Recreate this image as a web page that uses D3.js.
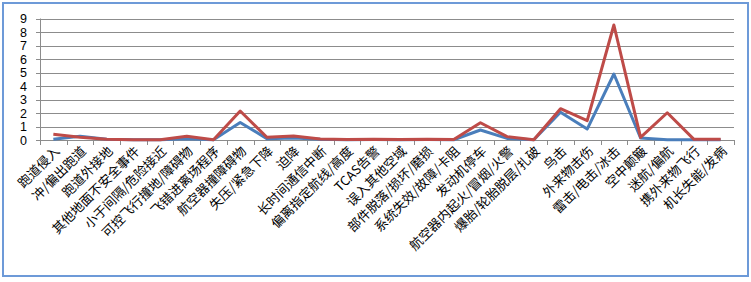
<!DOCTYPE html>
<html>
<head>
<meta charset="utf-8">
<script src="https://cdn.jsdelivr.net/npm/d3@7"></script>
<style>
  body { margin: 0; background: #fff; }
  svg { display: block; }
</style>
</head>
<body>
<div id="chart"></div>
<script>
var categories = ["跑道侵入", "冲/偏出跑道", "跑道外接地", "其他地面不安全事件", "小于间隔/危险接近",
    "可控飞行撞地/障碍物", "飞错进离场程序", "航空器撞障碍物", "失压/紧急下降", "迫降",
    "长时间通信中断", "偏离指定航线/高度", "TCAS告警", "误入其他空域", "部件脱落/损坏/磨损",
    "系统失效/故障/卡阻", "发动机停车", "航空器内起火/冒烟/火警", "爆胎/轮胎脱层/扎破", "鸟击",
    "外来物击伤", "雷击/电击/冰击", "空中颠簸", "迷航/偏航", "携外来物飞行", "机长失能/发病"];

var blueValues = [0.05, 0.27, 0.05, 0.02, 0.02, 0.1, 0.02, 1.3, 0.1, 0.15,
    0.05, 0.02, 0.04, 0.02, 0.04, 0.02, 0.74, 0.12, 0.02, 2.05,
    0.81, 4.89, 0.15, 0.02, 0.01, 0.01];
var redValues = [0.42, 0.2, 0.05, 0.02, 0.02, 0.27, 0.02, 2.15, 0.2, 0.3,
    0.08, 0.03, 0.06, 0.03, 0.06, 0.03, 1.28, 0.25, 0.02, 2.32,
    1.43, 8.52, 0.2, 2.02, 0.05, 0.05];
var yTicks = [0, 1, 2, 3, 4, 5, 6, 7, 8, 9];

var width = 751, height = 282;
var margin = {top: 18.5, left: 40, right: 17, bottom: 142};

var svg = d3.select("#chart").append("svg")
    .attr("width", width)
    .attr("height", height);

// chart border
svg.append("rect")
    .attr("x", 3).attr("y", 3)
    .attr("width", 745).attr("height", 273)
    .attr("fill", "#fff")
    .attr("stroke", "#6d9ad8")
    .attr("stroke-width", 2);

var x = d3.scaleBand()
    .domain(categories)
    .range([margin.left, width - margin.right])
    .padding(0);
var y = d3.scaleLinear()
    .domain([0, 9])
    .range([height - margin.bottom, margin.top]);

// gridlines
svg.append("g")
    .selectAll("line")
    .data(yTicks)
    .enter()
    .append("line")
    .attr("x1", margin.left - 4)
    .attr("x2", width - margin.right)
    .attr("y1", d => Math.round(y(d)) + 0.5)
    .attr("y2", d => Math.round(y(d)) + 0.5)
    .attr("stroke", "#8c8c8c")
    .attr("stroke-width", 1);

// y labels
svg.append("g")
    .selectAll("text")
    .data(yTicks)
    .enter()
    .append("text")
    .attr("x", 27)
    .attr("y", d => y(d) + 4.5)
    .attr("text-anchor", "end")
    .style("font-family", "'Liberation Sans', Arial, sans-serif")
    .style("font-size", "12.5px")
    .attr("fill", "#000")
    .text(d => d);

// y axis line
svg.append("line")
    .attr("x1", margin.left + 0.5).attr("x2", margin.left + 0.5)
    .attr("y1", y(9)).attr("y2", y(0))
    .attr("stroke", "#8c8c8c");

// x tick marks
var edges = categories.map(d => x(d)).concat([x.range()[1]]);
svg.append("g")
    .selectAll("line")
    .data(edges)
    .enter()
    .append("line")
    .attr("x1", d => Math.round(d) + 0.5)
    .attr("x2", d => Math.round(d) + 0.5)
    .attr("y1", y(0))
    .attr("y2", y(0) + 5)
    .attr("stroke", "#8c8c8c");

// x labels
svg.append("g")
    .selectAll("text")
    .data(categories)
    .enter()
    .append("text")
    .attr("transform", d => "translate(" + (x(d) + x.bandwidth() / 2 + 7) + "," + (y(0) + 12) + ") rotate(-45)")
    .attr("text-anchor", "end")
    .style("font-family", "'Noto Sans CJK SC', sans-serif")
    .style("font-size", "13px")
    .attr("fill", "#000")
    .text(d => d);

var line = d3.line()
    .x((d, i) => x(categories[i]) + x.bandwidth() / 2)
    .y(d => y(d));

svg.append("path")
    .datum(blueValues)
    .attr("d", line)
    .attr("fill", "none")
    .attr("stroke", "#4a7ebb")
    .attr("stroke-width", 3)
    .attr("stroke-linejoin", "round");

svg.append("path")
    .datum(redValues)
    .attr("d", line)
    .attr("fill", "none")
    .attr("stroke", "#be4b48")
    .attr("stroke-width", 3)
    .attr("stroke-linejoin", "round");
</script>
</body>
</html>
